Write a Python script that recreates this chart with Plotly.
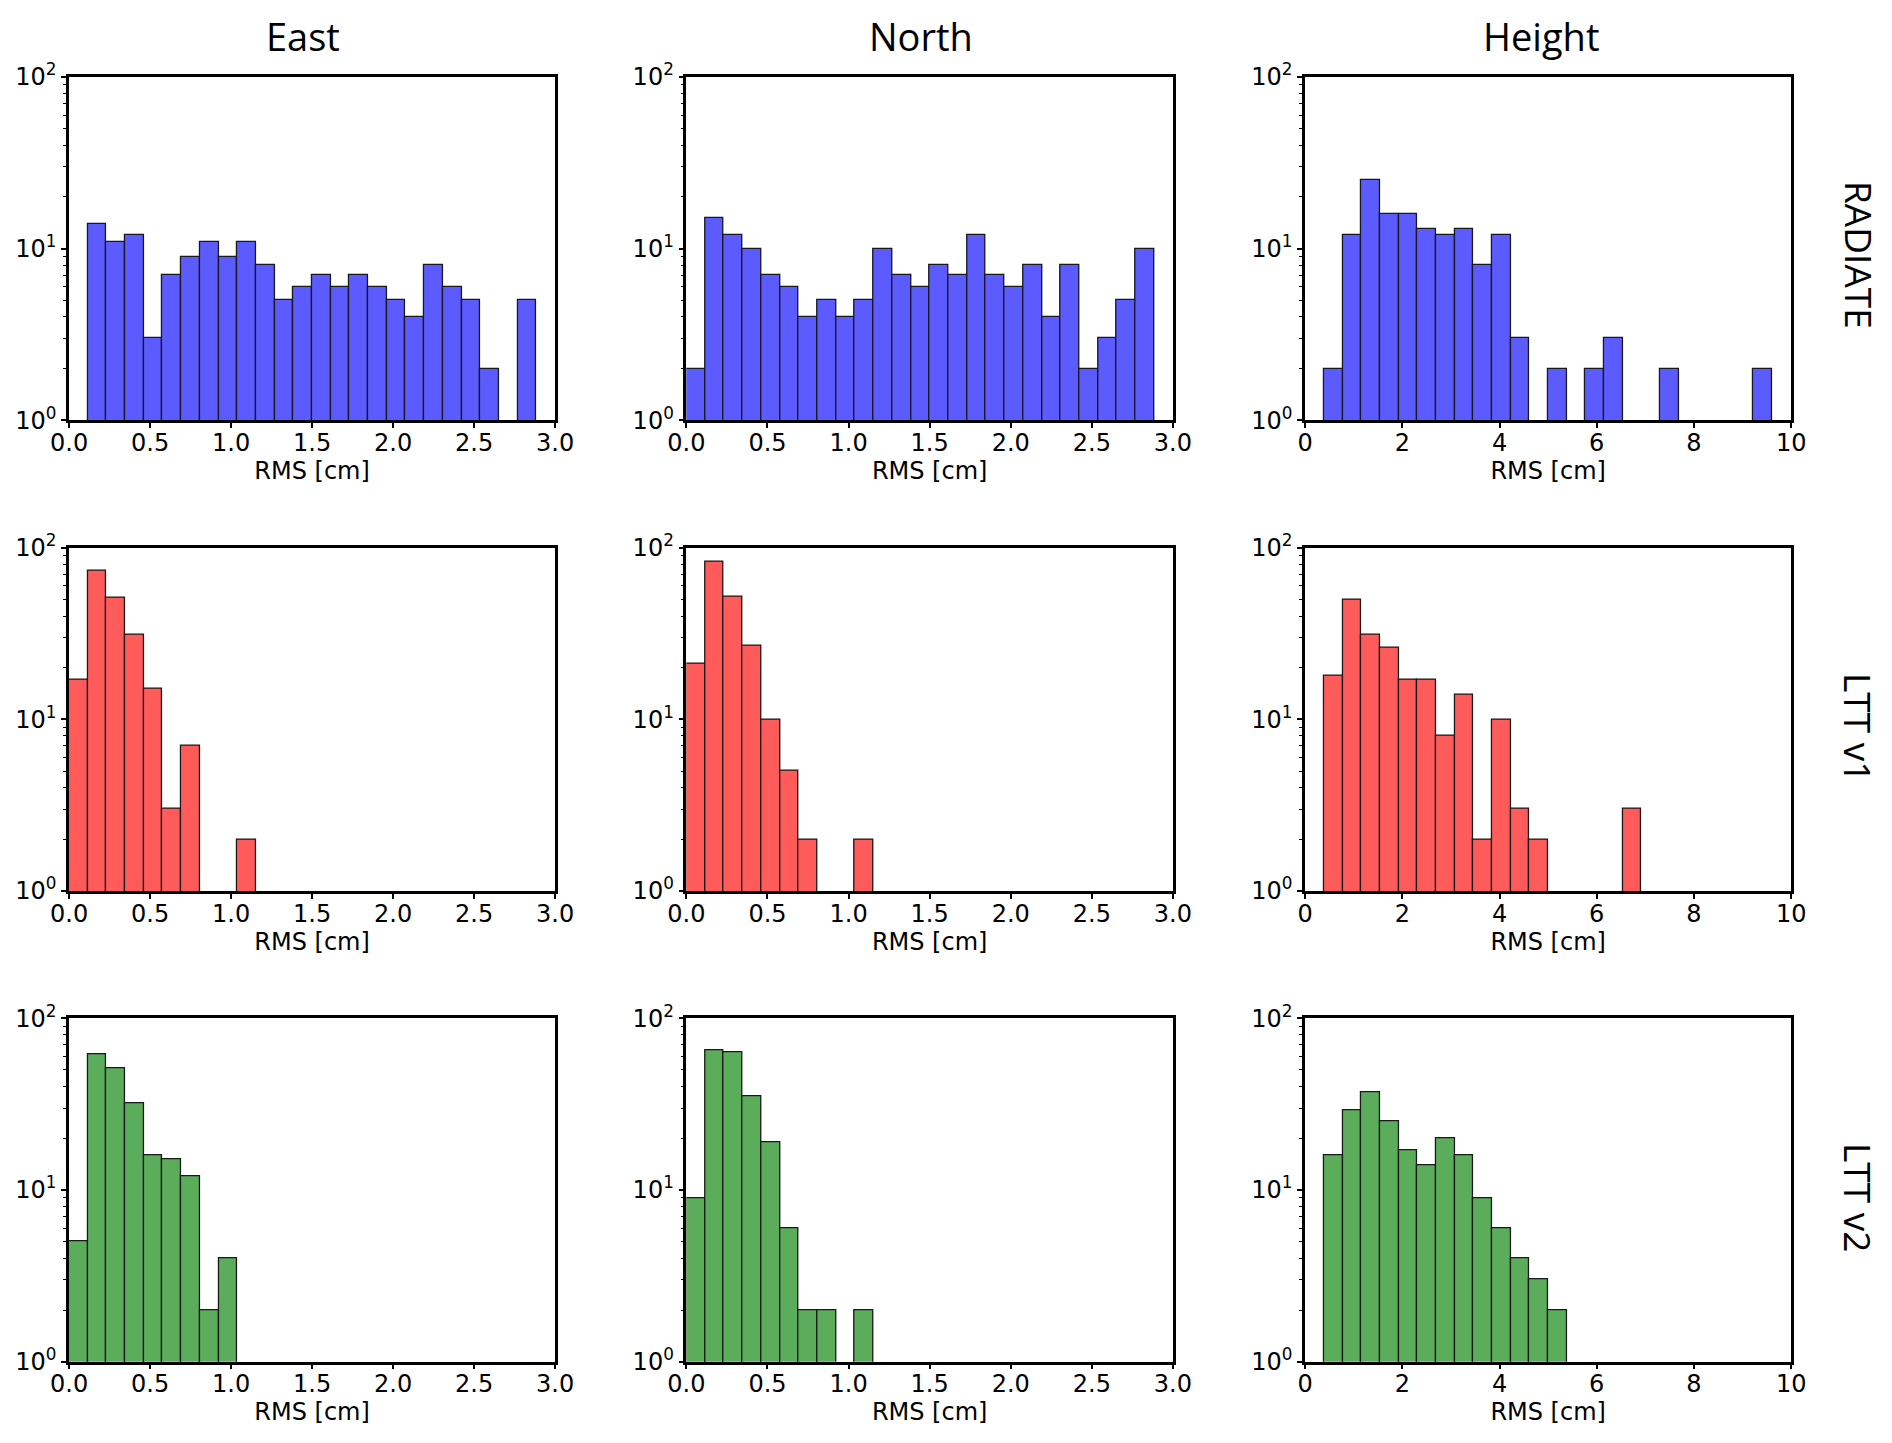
import numpy as np
import plotly.graph_objects as go

# ---------------- data (counts per bin) ----------------
col_titles = ["East", "North", "Height"]
row_titles = ["RADIATE", "LTT v1", "LTT v2"]

# bins for East / North (cm)
en_bin_start = 0.0
en_bin_width = 3.0 / 26
# bins for Height (cm)
h_bin_start = 0.39
h_bin_width = 0.384

east_radiate = [0, 14, 11, 12, 3, 7, 9, 11, 9, 11, 8, 5, 6, 7, 6, 7, 6, 5, 4, 8, 6, 5, 2, 0, 5]
north_radiate = [2, 15, 12, 10, 7, 6, 4, 5, 4, 5, 10, 7, 6, 8, 7, 12, 7, 6, 8, 4, 8, 2, 3, 5, 10]
height_radiate = [2, 12, 25, 16, 16, 13, 12, 13, 8, 12, 3, 0, 2, 0, 2, 3, 0, 0, 2, 0, 0, 0, 0, 2]

east_ltt1 = [17, 73, 51, 31, 15, 3, 7, 0, 0, 2]
north_ltt1 = [21, 83, 52, 27, 10, 5, 2, 0, 0, 2]
height_ltt1 = [18, 50, 31, 26, 17, 17, 8, 14, 2, 10, 3, 2, 0, 0, 0, 0, 3]

east_ltt2 = [5, 62, 51, 32, 16, 15, 12, 2, 4]
north_ltt2 = [9, 65, 63, 35, 19, 6, 2, 2, 0, 2]
height_ltt2 = [16, 29, 37, 25, 17, 14, 20, 16, 9, 6, 4, 3, 2]

y_tickvals = [1, 10, 100]
y_ticktext = ["10<sup>0</sup>", "10<sup>1</sup>", "10<sup>2</sup>"]
y_minor_vals = [2, 3, 4, 5, 6, 7, 8, 9, 20, 30, 40, 50, 60, 70, 80, 90]

# ---------------- styling ----------------
W, H = 1892, 1443
row_colors = ["rgb(91,91,255)", "rgb(255,91,91)", "rgb(91,173,91)"]
edge_color = "rgb(25,25,25)"

col_px = [(69.1, 555.1), (686.4, 1172.9), (1305.1, 1791.2)]
row_px = [(77.0, 420.3), (547.7, 891.0), (1018.3, 1361.7)]
col_title_x = [303, 921, 1541]
col_title_y = 36
row_title_x = 1859
row_title_y = [255, 727, 1197]

tick_font = dict(family="DejaVu Sans", size=24, color="black")

grid = [
    [east_radiate, north_radiate, height_radiate],
    [east_ltt1, north_ltt1, height_ltt1],
    [east_ltt2, north_ltt2, height_ltt2],
]

fig = go.Figure()
layout = {}

for r in range(3):
    for c in range(3):
        idx = r * 3 + c + 1
        counts = grid[r][c]
        if c < 2:
            start, width = en_bin_start, en_bin_width
        else:
            start, width = h_bin_start, h_bin_width
        centers = [start + (k + 0.5) * width for k in range(len(counts))]
        yvals = [v if v > 0 else None for v in counts]
        xa = "x" if idx == 1 else f"x{idx}"
        ya = "y" if idx == 1 else f"y{idx}"
        fig.add_trace(go.Bar(
            x=centers, y=yvals, width=width,
            marker=dict(color=row_colors[r], line=dict(color=edge_color, width=1.3)),
            xaxis=xa, yaxis=ya, showlegend=False, hoverinfo="x+y",
        ))
        x0, x1 = col_px[c]
        y0, y1 = row_px[r]
        xkey = "xaxis" if idx == 1 else f"xaxis{idx}"
        ykey = "yaxis" if idx == 1 else f"yaxis{idx}"
        xax = dict(
            domain=[x0 / W, x1 / W], anchor=ya, automargin=False,
            range=[0, 3] if c < 2 else [0, 10],
            dtick=0.5 if c < 2 else 2, tick0=0,
            tickformat=".1f" if c < 2 else "d",
            showline=True, linecolor="black", linewidth=2.5, mirror=True,
            ticks="outside", ticklen=5, tickwidth=1.5, tickcolor="black",
            ticklabelstandoff=-6,
            showgrid=False, zeroline=False, tickfont=tick_font,
            title=dict(text="RMS [cm]", font=tick_font, standoff=6),
        )
        yax = dict(
            domain=[1 - y1 / H, 1 - y0 / H], anchor=xa, automargin=False,
            type="log", range=[0, 2],
            tickmode="array", tickvals=y_tickvals, ticktext=y_ticktext,
            showline=True, linecolor="black", linewidth=2.5, mirror=True,
            ticks="outside", ticklen=5, tickwidth=1.5, tickcolor="black",
            minor=dict(tickmode="array", tickvals=y_minor_vals, ticks="outside",
                       ticklen=3, tickwidth=1, tickcolor="black", showgrid=False),
            showgrid=False, zeroline=False, tickfont=tick_font,
        )
        layout[xkey] = xax
        layout[ykey] = yax

annotations = []
for c, t in enumerate(col_titles):
    annotations.append(dict(
        text=t, x=col_title_x[c] / W, y=1 - col_title_y / H, xref="paper", yref="paper",
        xanchor="center", yanchor="middle", showarrow=False,
        font=dict(family="Open Sans", size=38, color="black"),
    ))
for r, t in enumerate(row_titles):
    annotations.append(dict(
        text=t, x=row_title_x / W, y=1 - row_title_y[r] / H, xref="paper", yref="paper",
        xanchor="center", yanchor="middle", showarrow=False, textangle=90,
        font=dict(family="Open Sans", size=37, color="black"),
    ))

fig.update_layout(
    width=W, height=H, autosize=False,
    margin=dict(l=0, r=0, t=0, b=0, autoexpand=False),
    paper_bgcolor="white", plot_bgcolor="white",
    bargap=0, annotations=annotations,
    **layout,
)

fig.write_html("out.html", config={"displayModeBar": False},
               post_script="document.body.style.margin='0';document.body.style.overflow='hidden';")
